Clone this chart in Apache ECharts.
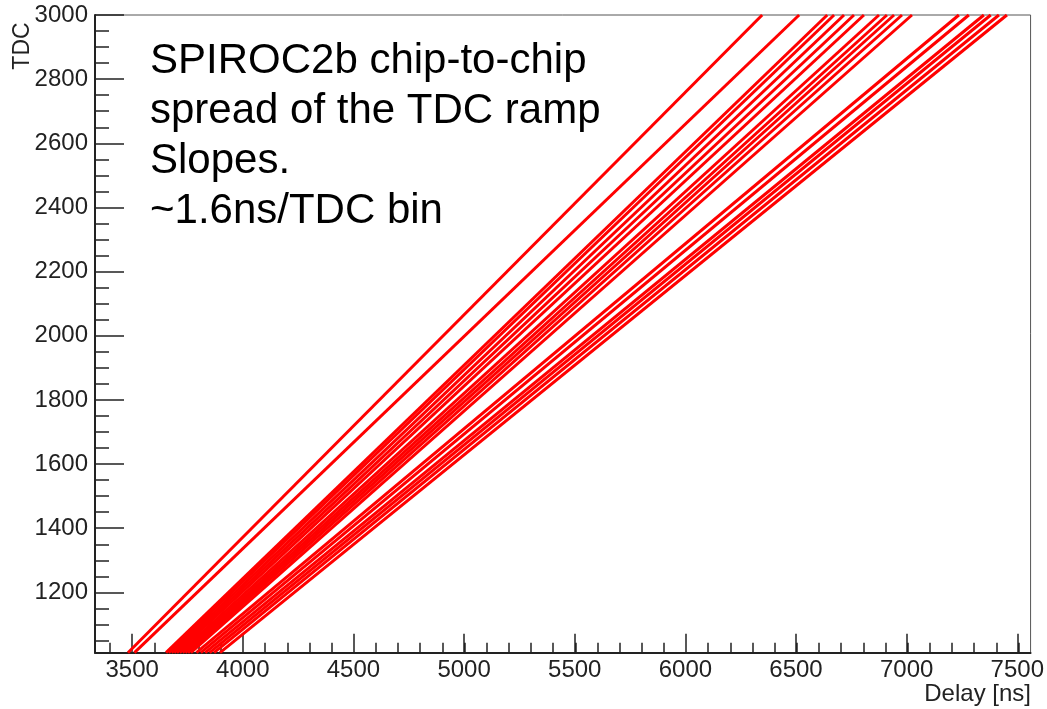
<!DOCTYPE html>
<html>
<head>
    <meta charset="utf-8" />
    <script src="https://cdn.jsdelivr.net/npm/echarts@6.0.0/dist/echarts.min.js"></script>
    <title>SPIROC2b TDC ramps</title>
    <style>
        html, body { margin: 0; padding: 0; background: #fff; }
        #main { width: 1047px; height: 709px; }
    </style>
</head>
<body>
    <div id="main"></div>
    <script type="text/javascript">
        // axis ranges (ns / TDC counts)
        var delayRange = [3332, 7560];
        var tdcRange = [1012, 3000];

        // tick labels
        var delayTicks = [3500, 4000, 4500, 5000, 5500, 6000, 6500, 7000, 7500];
        var tdcTicks = [1200, 1400, 1600, 1800, 2000, 2200, 2400, 2600, 2800, 3000];

        // delay where each chip's ramp leaves the bottom (TDC 1012) and reaches TDC 3000
        var rampStart = [3481, 3510,
            3653, 3665, 3678, 3690, 3702, 3715, 3728, 3740, 3752, 3765,
            3790, 3810, 3830, 3850, 3870, 3897];
        var rampEnd = [6347, 6514,
            6641, 6672, 6717, 6762, 6807, 6875, 6911, 6943, 6979, 7024,
            7236, 7281, 7349, 7380, 7417, 7453];

        var font = "'Liberation Sans', Arial, sans-serif";
        var minorX = [];
        for (var v = 3400; v <= 7500; v += 100) minorX.push(v);
        var minorY = [];
        for (var w = 1050; w <= 3000; w += 50) minorY.push(w);

        var series = rampStart.map(function (s, i) {
            return {
                type: 'line',
                xAxisIndex: 0,
                yAxisIndex: 0,
                showSymbol: false,
                symbol: 'none',
                lineStyle: { color: '#ff0000', width: 3 },
                data: [[s, tdcRange[0]], [rampEnd[i], tdcRange[1]]]
            };
        });

        var plain = function (val) { return String(val); };
        var grid = { left: 95, right: 15.3, top: 15, bottom: 56.3 };
        var chart = echarts.init(document.getElementById('main'));
        chart.setOption({
            animation: false,
            grid: [
                Object.assign({ show: true, borderColor: '#555', borderWidth: 1 }, grid),
                Object.assign({ show: false }, grid)
            ],
            xAxis: [{
                type: 'value', gridIndex: 0, min: delayRange[0], max: delayRange[1],
                axisLine: { show: true, lineStyle: { color: '#222', width: 2 } },
                axisTick: { show: true, inside: true, length: 19, customValues: delayTicks, lineStyle: { color: '#222', width: 1.5 } },
                axisLabel: { customValues: delayTicks, formatter: plain, color: '#222', fontSize: 24, fontFamily: font, margin: 6 },
                splitLine: { show: false }
            }, {
                type: 'value', gridIndex: 1, min: delayRange[0], max: delayRange[1],
                axisLine: { show: false },
                axisTick: { show: true, inside: true, length: 10, customValues: minorX, lineStyle: { color: '#222', width: 1.5 } },
                axisLabel: { show: false },
                splitLine: { show: false }
            }],
            yAxis: [{
                type: 'value', gridIndex: 0, min: tdcRange[0], max: tdcRange[1],
                axisLine: { show: true, lineStyle: { color: '#222', width: 2 } },
                axisTick: { show: true, inside: true, length: 29, customValues: tdcTicks, lineStyle: { color: '#222', width: 1.5 } },
                axisLabel: { customValues: tdcTicks, formatter: plain, color: '#222', fontSize: 24, fontFamily: font, margin: 7 },
                splitLine: { show: false }
            }, {
                type: 'value', gridIndex: 1, min: tdcRange[0], max: tdcRange[1],
                axisLine: { show: false },
                axisTick: { show: true, inside: true, length: 14, customValues: minorY, lineStyle: { color: '#222', width: 1.5 } },
                axisLabel: { show: false },
                splitLine: { show: false }
            }],
            graphic: [{
                type: 'text', x: 23, y: 46, rotation: Math.PI / 2,
                style: { text: 'TDC', font: '23px ' + font, fill: '#222', align: 'center', verticalAlign: 'middle' }
            }, {
                type: 'text', x: 1031, y: 694,
                style: { text: 'Delay [ns]', font: '24px ' + font, fill: '#222', align: 'right', verticalAlign: 'middle' }
            }, {
                type: 'text', x: 150, y: 36, z: 10,
                style: {
                    text: 'SPIROC2b chip-to-chip\nspread of the TDC ramp\nSlopes.\n~1.6ns/TDC bin',
                    font: '42px ' + font, fill: '#000', lineHeight: 50, align: 'left', verticalAlign: 'top'
                }
            }],
            series: series
        });
    </script>
</body>
</html>
